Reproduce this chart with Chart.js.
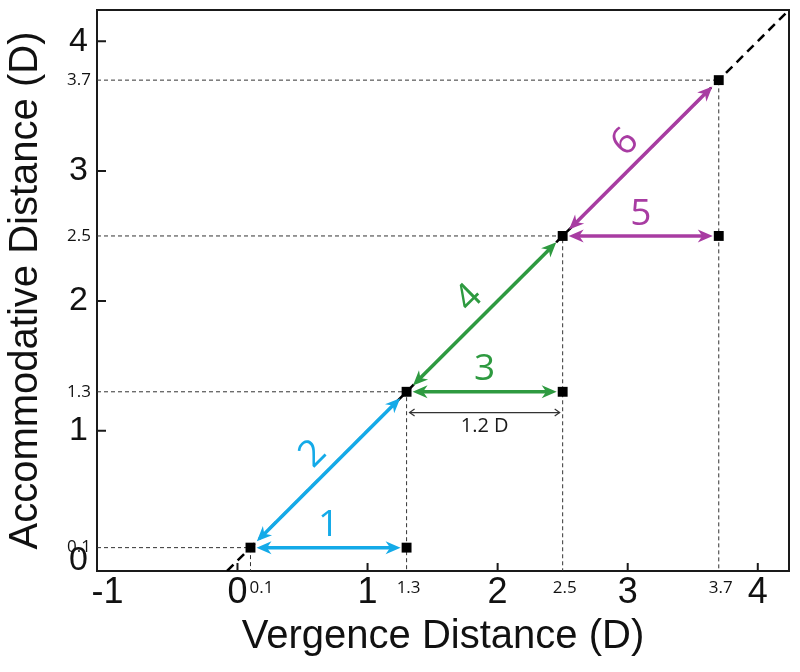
<!DOCTYPE html>
<html>
<head>
<meta charset="utf-8">
<script src="https://cdn.jsdelivr.net/npm/chart.js@4.4.1/dist/chart.umd.min.js"></script>
<style>
    html, body { margin: 0; padding: 0; background: #fff; }
    #wrap { width: 800px; height: 672px; }
</style>
</head>
<body>
<div id="wrap"><canvas id="myChart" width="800" height="672"></canvas></div>
<script>
// Data (dioptres)
const levels = [0.1, 1.3, 2.5, 3.7];           // points on the diagonal
const xTicks = [-1, 0, 1, 2, 3, 4];
const yTicks = [0, 1, 2, 3, 4];
const arrowLabels = ['1', '2', '3', '4', '5', '6'];
const spanLabel = '1.2 D';
const spanLevel = 1.14;                           // height of the small 1.2 D arrow

// axis ranges
const xMin = -1.08, xMax = 4.24;
const yMin = -0.08, yMax = 4.24;

// styles
const stepColors = ['#14aae8', '#2e9a40', '#a83ca2'];
const sansH = '"Liberation Sans", Arial, sans-serif';
const sansM = '"Open Sans", "Liberation Sans", sans-serif';

// markers: on the diagonal, and at the end of each horizontal step
const markerPoints = levels.map(v => ({ x: v, y: v }))
    .concat(levels.slice(1).map((v, i) => ({ x: v, y: levels[i] })));

// arrows, built from the levels
const arrows = [];
for (let i = 0; i < levels.length - 1; i++) {
    const a = levels[i], b = levels[i + 1];
    arrows.push({ from: { x: a, y: a }, to: { x: b, y: a }, label: arrowLabels[2 * i], step: i });
    arrows.push({ from: { x: a, y: a }, to: { x: b, y: b }, label: arrowLabels[2 * i + 1], step: i });
}

const datasets = [];
datasets.push({
    data: markerPoints, pointStyle: 'rect', pointRadius: 7, pointHoverRadius: 7,
    backgroundColor: '#000', borderWidth: 0, showLine: false, order: 0
});
// dashed guide lines from the axes to every diagonal point
levels.forEach(v => {
    datasets.push({
        data: [{ x: xMin, y: v }, { x: v, y: v }, { x: v, y: yMin }],
        showLine: true, borderColor: '#333', borderWidth: 1, borderDash: [4, 3],
        pointRadius: 0, order: 2
    });
});
// dashed y = x line
datasets.push({
    data: [{ x: yMin, y: yMin }, { x: xMax, y: xMax }],
    showLine: true, borderColor: '#000', borderWidth: 2.5, borderDash: [9, 6],
    pointRadius: 0, order: 3
});

function arrowHead(ctx, x, y, ang, len, wid) {
    ctx.save();
    ctx.translate(x, y);
    ctx.rotate(ang);
    ctx.beginPath();
    ctx.moveTo(0, 0);
    ctx.lineTo(-len, -wid);
    ctx.lineTo(-len * 0.7, 0);
    ctx.lineTo(-len, wid);
    ctx.closePath();
    ctx.fill();
    ctx.restore();
}

function openHead(ctx, x, y, ang, len, wid) {
    ctx.save();
    ctx.translate(x, y);
    ctx.rotate(ang);
    ctx.beginPath();
    ctx.moveTo(-len, -wid);
    ctx.lineTo(0, 0);
    ctx.lineTo(-len, wid);
    ctx.stroke();
    ctx.restore();
}

const overlay = {
    id: 'overlay',
    afterDatasetsDraw(chart) {
        const { ctx, chartArea: a, scales: { x, y } } = chart;
        ctx.save();

        // top and right frame
        ctx.strokeStyle = '#1a1a1a';
        ctx.lineWidth = 2;
        ctx.beginPath();
        ctx.moveTo(a.left, a.top);
        ctx.lineTo(a.right, a.top);
        ctx.lineTo(a.right, a.bottom);
        ctx.stroke();

        // inward tick marks
        ctx.beginPath();
        xTicks.filter(v => v > xMin + 0.1).forEach(v => {
            const px = x.getPixelForValue(v);
            ctx.moveTo(px, a.bottom);
            ctx.lineTo(px, a.bottom - 8);
        });
        yTicks.filter(v => v > 0).forEach(v => {
            const py = y.getPixelForValue(v);
            ctx.moveTo(a.left, py);
            ctx.lineTo(a.left + 9, py);
        });
        ctx.stroke();

        // coloured double arrows
        arrows.forEach(ar => {
            const x1 = x.getPixelForValue(ar.from.x), y1 = y.getPixelForValue(ar.from.y);
            const x2 = x.getPixelForValue(ar.to.x), y2 = y.getPixelForValue(ar.to.y);
            const dx = x2 - x1, dy = y2 - y1;
            const d = Math.hypot(dx, dy);
            const ux = dx / d, uy = dy / d;
            const gap = ar.from.y === ar.to.y ? 6 : 9;
            const t1x = x1 + ux * gap, t1y = y1 + uy * gap;
            const t2x = x2 - ux * gap, t2y = y2 - uy * gap;
            const color = stepColors[ar.step];
            ctx.strokeStyle = color;
            ctx.fillStyle = color;
            ctx.lineWidth = 3.5;
            ctx.beginPath();
            ctx.moveTo(t1x + ux * 9, t1y + uy * 9);
            ctx.lineTo(t2x - ux * 9, t2y - uy * 9);
            ctx.stroke();
            const ang = Math.atan2(dy, dx);
            arrowHead(ctx, t2x, t2y, ang, 15, 6.5);
            arrowHead(ctx, t1x, t1y, ang + Math.PI, 15, 6.5);

            // number label, above / left of the arrow
            const mx = (x1 + x2) / 2, my = (y1 + y2) / 2;
            const nx = uy, ny = -ux;
            const off = 22;
            ctx.save();
            ctx.translate(mx + nx * off, my + ny * off);
            ctx.rotate(ang);
            ctx.font = '37px ' + sansM;
            ctx.textAlign = 'center';
            ctx.textBaseline = 'middle';
            ctx.fillText(ar.label, 0, 0);
            ctx.restore();
        });

        // small 1.2 D span arrow
        const sx1 = x.getPixelForValue(levels[1]) + 3;
        const sx2 = x.getPixelForValue(levels[2]) - 3;
        const sy = y.getPixelForValue(spanLevel);
        ctx.strokeStyle = '#333';
        ctx.lineWidth = 1.2;
        ctx.beginPath();
        ctx.moveTo(sx1, sy);
        ctx.lineTo(sx2, sy);
        ctx.stroke();
        openHead(ctx, sx2, sy, 0, 5, 3.5);
        openHead(ctx, sx1, sy, Math.PI, 5, 3.5);
        ctx.fillStyle = '#1a1a1a';
        ctx.font = '20px ' + sansM;
        ctx.textAlign = 'center';
        ctx.textBaseline = 'middle';
        ctx.fillText(spanLabel, (sx1 + sx2) / 2, sy + 14);

        // small tick labels at the diagonal points
        ctx.font = '17px ' + sansM;
        ctx.fillStyle = '#111';
        levels.forEach((v, i) => {
            ctx.textBaseline = 'middle';
            const px = x.getPixelForValue(v);
            if (i === 0) {
                ctx.textAlign = 'left';
                ctx.fillText(String(v), px - 1, a.bottom + 17);
            } else {
                ctx.textAlign = 'center';
                ctx.fillText(String(v), px + 2, a.bottom + 17);
            }
            ctx.textAlign = 'right';
            ctx.fillText(String(v), a.left - 6, y.getPixelForValue(v));
        });

        ctx.restore();
    }
};

// keep the plot box where it is: no extra label overhang padding
function noOverhang(s) {
    s.paddingTop = 0;
    s.paddingBottom = 0;
    s.paddingLeft = 0;
    s.paddingRight = 0;
}

const ctx = document.getElementById('myChart').getContext('2d');
new Chart(ctx, {
    type: 'scatter',
    data: { datasets: datasets },
    options: {
        responsive: false,
        animation: false,
        events: [],
        layout: { padding: { top: 10, right: 11, left: 0, bottom: 0 } },
        plugins: {
            legend: { display: false },
            tooltip: { enabled: false }
        },
        scales: {
            x: {
                type: 'linear',
                min: xMin,
                max: xMax,
                afterBuildTicks: s => { s.ticks = xTicks.map(v => ({ value: v })); },
                afterFit: s => { s.height = 101; noOverhang(s); },
                grid: { display: false, drawTicks: false },
                border: { display: true, color: '#1a1a1a', width: 2 },
                ticks: {
                    autoSkip: false, maxRotation: 0, padding: 4, color: '#111',
                    font: { family: sansH, size: 36, lineHeight: 1 },
                    callback: v => String(v)
                },
                title: {
                    display: true, text: 'Vergence Distance (D)', color: '#111',
                    font: { family: sansH, size: 40, lineHeight: 1 },
                    padding: { top: 0, bottom: 15 }
                }
            },
            y: {
                type: 'linear',
                min: yMin,
                max: yMax,
                afterBuildTicks: s => { s.ticks = yTicks.map(v => ({ value: v })); },
                afterFit: s => { s.width = 97; noOverhang(s); },
                grid: { display: false, drawTicks: false },
                border: { display: true, color: '#1a1a1a', width: 2 },
                ticks: {
                    autoSkip: false, padding: 9, color: '#111',
                    font: { family: sansH, size: 34, lineHeight: 1 },
                    callback: v => String(v)
                },
                title: {
                    display: true, text: 'Accommodative Distance (D)', color: '#111',
                    font: { family: sansH, size: 40, lineHeight: 1 },
                    padding: { top: 6, bottom: 0 }
                }
            }
        }
    },
    plugins: [overlay]
});
</script>
</body>
</html>
